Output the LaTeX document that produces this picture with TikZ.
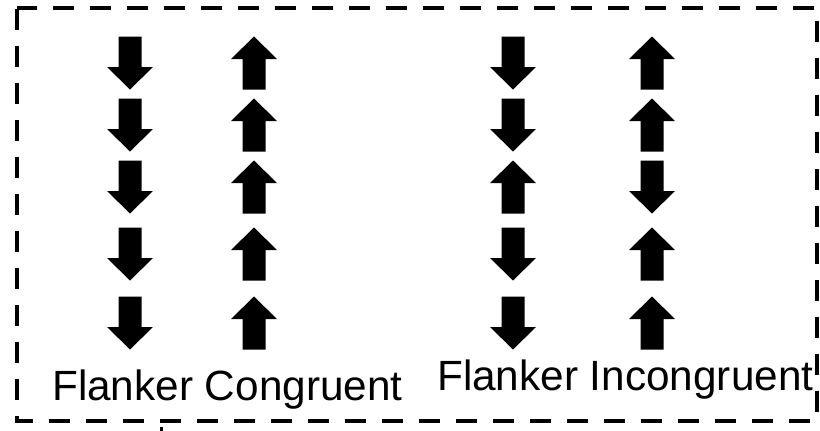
\documentclass[tikz,border=0pt]{standalone}
\usepackage{fontspec}
\setmainfont{Liberation Sans}
\begin{document}
\begin{tikzpicture}[x=1pt,y=-1pt,
  frame/.style={line width=4pt, dash pattern=on 21pt off 16pt, dash phase=-1pt},
  lbl/.style={font=\fontsize{42.3}{42.3}\selectfont, anchor=base west, inner sep=0pt},
  pics/dn/.style={code={\fill (-11.5,-26.5) -- (11.5,-26.5) -- (11.5,4) -- (23,4) -- (0,26.5) -- (-23,4) -- (-11.5,4) -- cycle;}},
  pics/up/.style={code={\fill (-11.5,26.5) -- (11.5,26.5) -- (11.5,-4) -- (23,-4) -- (0,-26.5) -- (-23,-4) -- (-11.5,-4) -- cycle;}}
]
\path[use as bounding box] (0,0) rectangle (820,431);
\draw[frame] (17,8) rectangle (817,421);
% column 1: congruent, down
\foreach \y in {63,125,187,254,323} \pic at (130,\y) {dn};
% column 2: congruent, up
\foreach \y in {63,125,187,254,323} \pic at (254,\y) {up};
% column 3: incongruent, centre up
\pic at (513,63) {dn};
\pic at (513,125) {dn};
\pic at (513,187) {up};
\pic at (513,254) {dn};
\pic at (513,323) {dn};
% column 4: incongruent, centre down
\pic at (652,63) {up};
\pic at (652,125) {up};
\pic at (652,187) {dn};
\pic at (652,254) {up};
\pic at (652,323) {up};
\node[lbl] (c) at (52,400) {Flanker Congruent};
\node[lbl] (i) at (437,390) {Flanker Incongruent};
\draw[line width=3pt] (161,427) -- (161,431);
\end{tikzpicture}
\end{document}
